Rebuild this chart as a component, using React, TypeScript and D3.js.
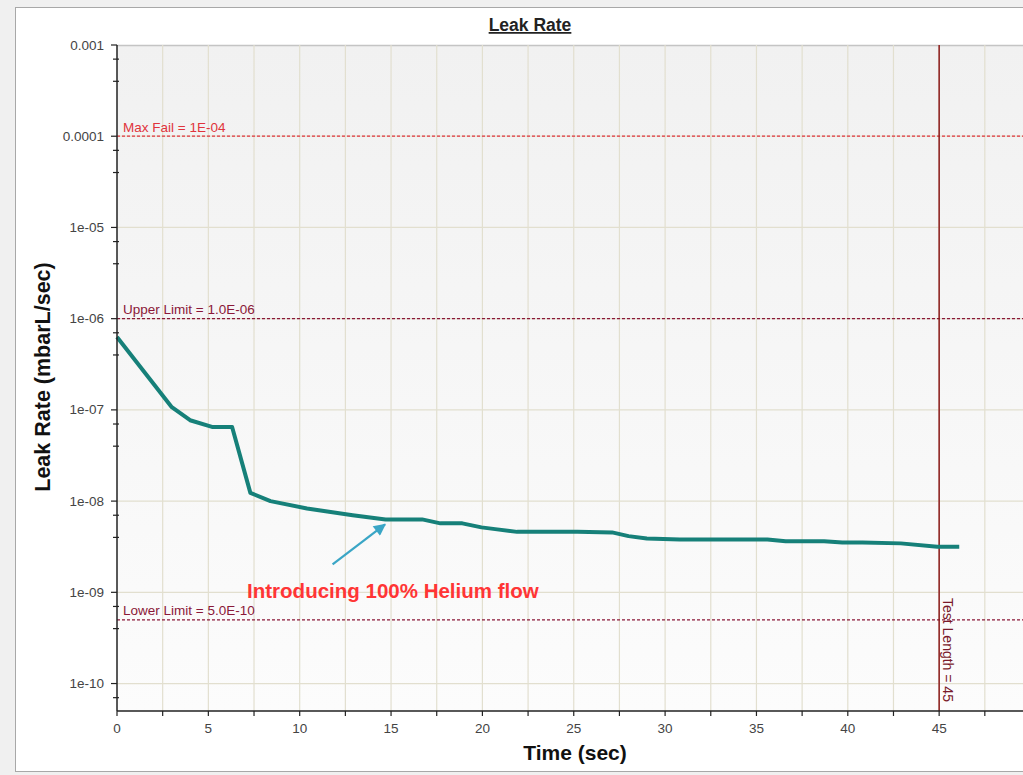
import React, { useEffect, useRef } from "react";
import * as d3 from "d3";

// leak rate readings (time in sec, leak in mbarL/sec)
const times = [0, 3.0, 4.0, 5.2, 6.3, 7.3, 8.4, 10.4, 12.9, 14.7, 16.7, 17.7, 18.9, 19.95, 20.7, 21.9, 25.2, 27.1, 28.0, 29.0, 30.8, 35.6, 36.6, 38.7, 39.7, 40.8, 42.9, 44.9, 46.1];
const leakRates = [6.3e-7, 1.07e-7, 7.7e-8, 6.5e-8, 6.5e-8, 1.23e-8, 1.0e-8, 8.3e-9, 7.0e-9, 6.3e-9, 6.3e-9, 5.7e-9, 5.7e-9, 5.15e-9, 4.93e-9, 4.6e-9, 4.6e-9, 4.54e-9, 4.13e-9, 3.9e-9, 3.8e-9, 3.8e-9, 3.64e-9, 3.64e-9, 3.52e-9, 3.52e-9, 3.44e-9, 3.16e-9, 3.16e-9];

const limitLabels = ["Max Fail = 1E-04", "Upper Limit = 1.0E-06", "Lower Limit = 5.0E-10"];
const limitValues = [1e-4, 1e-6, 5e-10];

const testLength = 45;
const testLabel = "Test Length = 45";

const yTickValues = [1e-3, 1e-4, 1e-5, 1e-6, 1e-7, 1e-8, 1e-9, 1e-10];
const yTickLabels = ["0.001", "0.0001", "1e-05", "1e-06", "1e-07", "1e-08", "1e-09", "1e-10"];
const xTickValues = [0, 5, 10, 15, 20, 25, 30, 35, 40, 45];

// annotation: arrow from tail to head, text under it
const noteText = "Introducing 100% Helium flow";
const noteTail = { t: 11.8, v: 2.02e-9 };
const noteHead = { t: 14.67, v: 5.55e-9 };
const noteAt = { t: 15.1, v: 8.6e-10 };

const W = 1023;
const H = 775;
const font = "'Liberation Sans', Arial, sans-serif";

export default function App() {
  const ref = useRef<SVGSVGElement>(null);

  useEffect(() => {
    const svg = d3.select(ref.current);
    svg.selectAll("*").remove();

    const left = 117, top = 45, bottom = 711;
    const x = d3.scaleLinear().domain([0, 50]).range([left, left + 50 * 18.27]);
    const y = d3.scaleLog().domain([5e-11, 1e-3]).range([bottom, top]);

    // window frame
    svg.append("rect").attr("width", W).attr("height", H).attr("fill", "#f0f0f0");
    svg.append("rect").attr("x", 15.5).attr("y", 7.5).attr("width", W).attr("height", 764)
      .attr("fill", "#fff").attr("stroke", "#a8a8a8");

    const defs = svg.append("defs");
    const grad = defs.append("linearGradient").attr("id", "bg").attr("x1", 0).attr("y1", 0).attr("x2", 0).attr("y2", 1);
    grad.append("stop").attr("offset", "0%").attr("stop-color", "#f1f1f1");
    grad.append("stop").attr("offset", "100%").attr("stop-color", "#fcfcfc");
    defs.append("marker").attr("id", "arr").attr("viewBox", "0 0 10 10").attr("refX", 9).attr("refY", 5)
      .attr("markerWidth", 6).attr("markerHeight", 5.5).attr("markerUnits", "strokeWidth").attr("orient", "auto")
      .append("path").attr("d", "M0,0L10,5L0,10z").attr("fill", "#3aa6c6");

    svg.append("rect").attr("x", left).attr("y", top).attr("width", W - left).attr("height", bottom - top)
      .attr("fill", "url(#bg)");
    svg.append("line").attr("x1", left).attr("x2", W).attr("y1", top + 0.5).attr("y2", top + 0.5)
      .attr("stroke", "#c4c4c4").attr("stroke-width", 1.5);

    // grid
    const g = svg.append("g");
    g.selectAll(".vg").data(d3.range(2.5, 50.1, 2.5)).enter().append("line")
      .attr("x1", (d) => x(d)).attr("x2", (d) => x(d)).attr("y1", top).attr("y2", bottom)
      .attr("stroke", "#e2dfcf").attr("stroke-width", 1.2);
    g.selectAll(".hg").data(yTickValues.slice(1)).enter().append("line")
      .attr("x1", left).attr("x2", W).attr("y1", (d) => y(d)).attr("y2", (d) => y(d))
      .attr("stroke", "#e2dfcf").attr("stroke-width", 1.2);

    // limit lines
    const limitColors = ["#e0343c", "#8a1838", "#8a1838"];
    limitValues.forEach((v, i) => {
      svg.append("line").attr("x1", left).attr("x2", W).attr("y1", y(v)).attr("y2", y(v))
        .attr("stroke", limitColors[i]).attr("stroke-width", 1.2).attr("stroke-dasharray", "3,2");
      svg.append("text").attr("x", left + 6).attr("y", y(v) - 4.5).text(limitLabels[i])
        .attr("fill", limitColors[i]).attr("font-size", 13.5).attr("font-family", font);
    });

    // test length
    svg.append("line").attr("x1", x(testLength)).attr("x2", x(testLength)).attr("y1", top).attr("y2", bottom)
      .attr("stroke", "#8b1a1a").attr("stroke-width", 1.5);
    svg.append("text").attr("transform", `translate(${x(testLength) + 4},598) rotate(90)`)
      .text(testLabel).attr("fill", "#7a1a2a").attr("font-size", 14).attr("font-family", font);

    // data line
    const pts = times.map((t, i) => [t, leakRates[i]] as [number, number]);
    svg.append("path").datum(pts)
      .attr("d", d3.line<[number, number]>().x((d) => x(d[0])).y((d) => y(d[1])))
      .attr("fill", "none").attr("stroke", "#168079").attr("stroke-width", 4).attr("stroke-linejoin", "round");

    // annotation
    svg.append("line").attr("x1", x(noteTail.t)).attr("y1", y(noteTail.v)).attr("x2", x(noteHead.t)).attr("y2", y(noteHead.v))
      .attr("stroke", "#3aa6c6").attr("stroke-width", 2.2).attr("marker-end", "url(#arr)");
    svg.append("text").attr("x", x(noteAt.t)).attr("y", y(noteAt.v)).attr("text-anchor", "middle")
      .text(noteText).attr("fill", "#ff3535").attr("font-weight", "bold").attr("font-size", 20.5).attr("font-family", font);

    // y axis
    svg.append("line").attr("x1", left).attr("x2", left).attr("y1", top).attr("y2", bottom)
      .attr("stroke", "#222").attr("stroke-width", 1.5);
    const minor: number[] = [];
    for (let e = -11; e <= -4; e++) [7, 4].forEach((m) => { const v = m * Math.pow(10, e); if (v > 5e-11 && v < 1e-3) minor.push(v); });
    svg.selectAll(".ymin").data(minor).enter().append("line")
      .attr("x1", left - 4).attr("x2", left + 2).attr("y1", (d) => y(d)).attr("y2", (d) => y(d))
      .attr("stroke", "#222").attr("stroke-width", 1.2);
    svg.selectAll(".ymaj").data(yTickValues).enter().append("line")
      .attr("x1", left - 6).attr("x2", left).attr("y1", (d) => y(d)).attr("y2", (d) => y(d))
      .attr("stroke", "#222").attr("stroke-width", 1.2);
    svg.selectAll(".ylab").data(yTickValues).enter().append("text")
      .attr("x", left - 13).attr("y", (d) => y(d) + 4.5).attr("text-anchor", "end")
      .text((d, i) => yTickLabels[i]).attr("fill", "#444").attr("font-size", 13.5).attr("font-family", font);

    // x axis
    svg.append("line").attr("x1", left).attr("x2", W).attr("y1", bottom).attr("y2", bottom)
      .attr("stroke", "#222").attr("stroke-width", 1.5);
    svg.selectAll(".xt").data(d3.range(0, 50.1, 2.5)).enter().append("line")
      .attr("x1", (d) => x(d)).attr("x2", (d) => x(d)).attr("y1", bottom).attr("y2", bottom + 5)
      .attr("stroke", "#222").attr("stroke-width", 1.2);
    svg.selectAll(".xlab").data(xTickValues).enter().append("text")
      .attr("x", (d) => x(d)).attr("y", bottom + 22).attr("text-anchor", "middle")
      .text((d) => d).attr("fill", "#444").attr("font-size", 13.5).attr("font-family", font);

    // titles
    svg.append("text").attr("x", 530).attr("y", 31).attr("text-anchor", "middle").text("Leak Rate")
      .attr("font-weight", "bold").attr("font-size", 17.5).attr("font-family", font).attr("fill", "#222")
      .attr("text-decoration", "underline");
    svg.append("text").attr("x", 575).attr("y", 760).attr("text-anchor", "middle").text("Time (sec)")
      .attr("font-weight", "bold").attr("font-size", 21).attr("font-family", font).attr("fill", "#111");
    svg.append("text").attr("transform", "translate(50,377) rotate(-90)").attr("text-anchor", "middle")
      .text("Leak Rate (mbarL/sec)").attr("font-weight", "bold").attr("font-size", 21.5)
      .attr("font-family", font).attr("fill", "#111");
  }, []);

  return <svg ref={ref} width={W} height={H} style={{ position: "absolute", left: 0, top: 0 }} />;
}
